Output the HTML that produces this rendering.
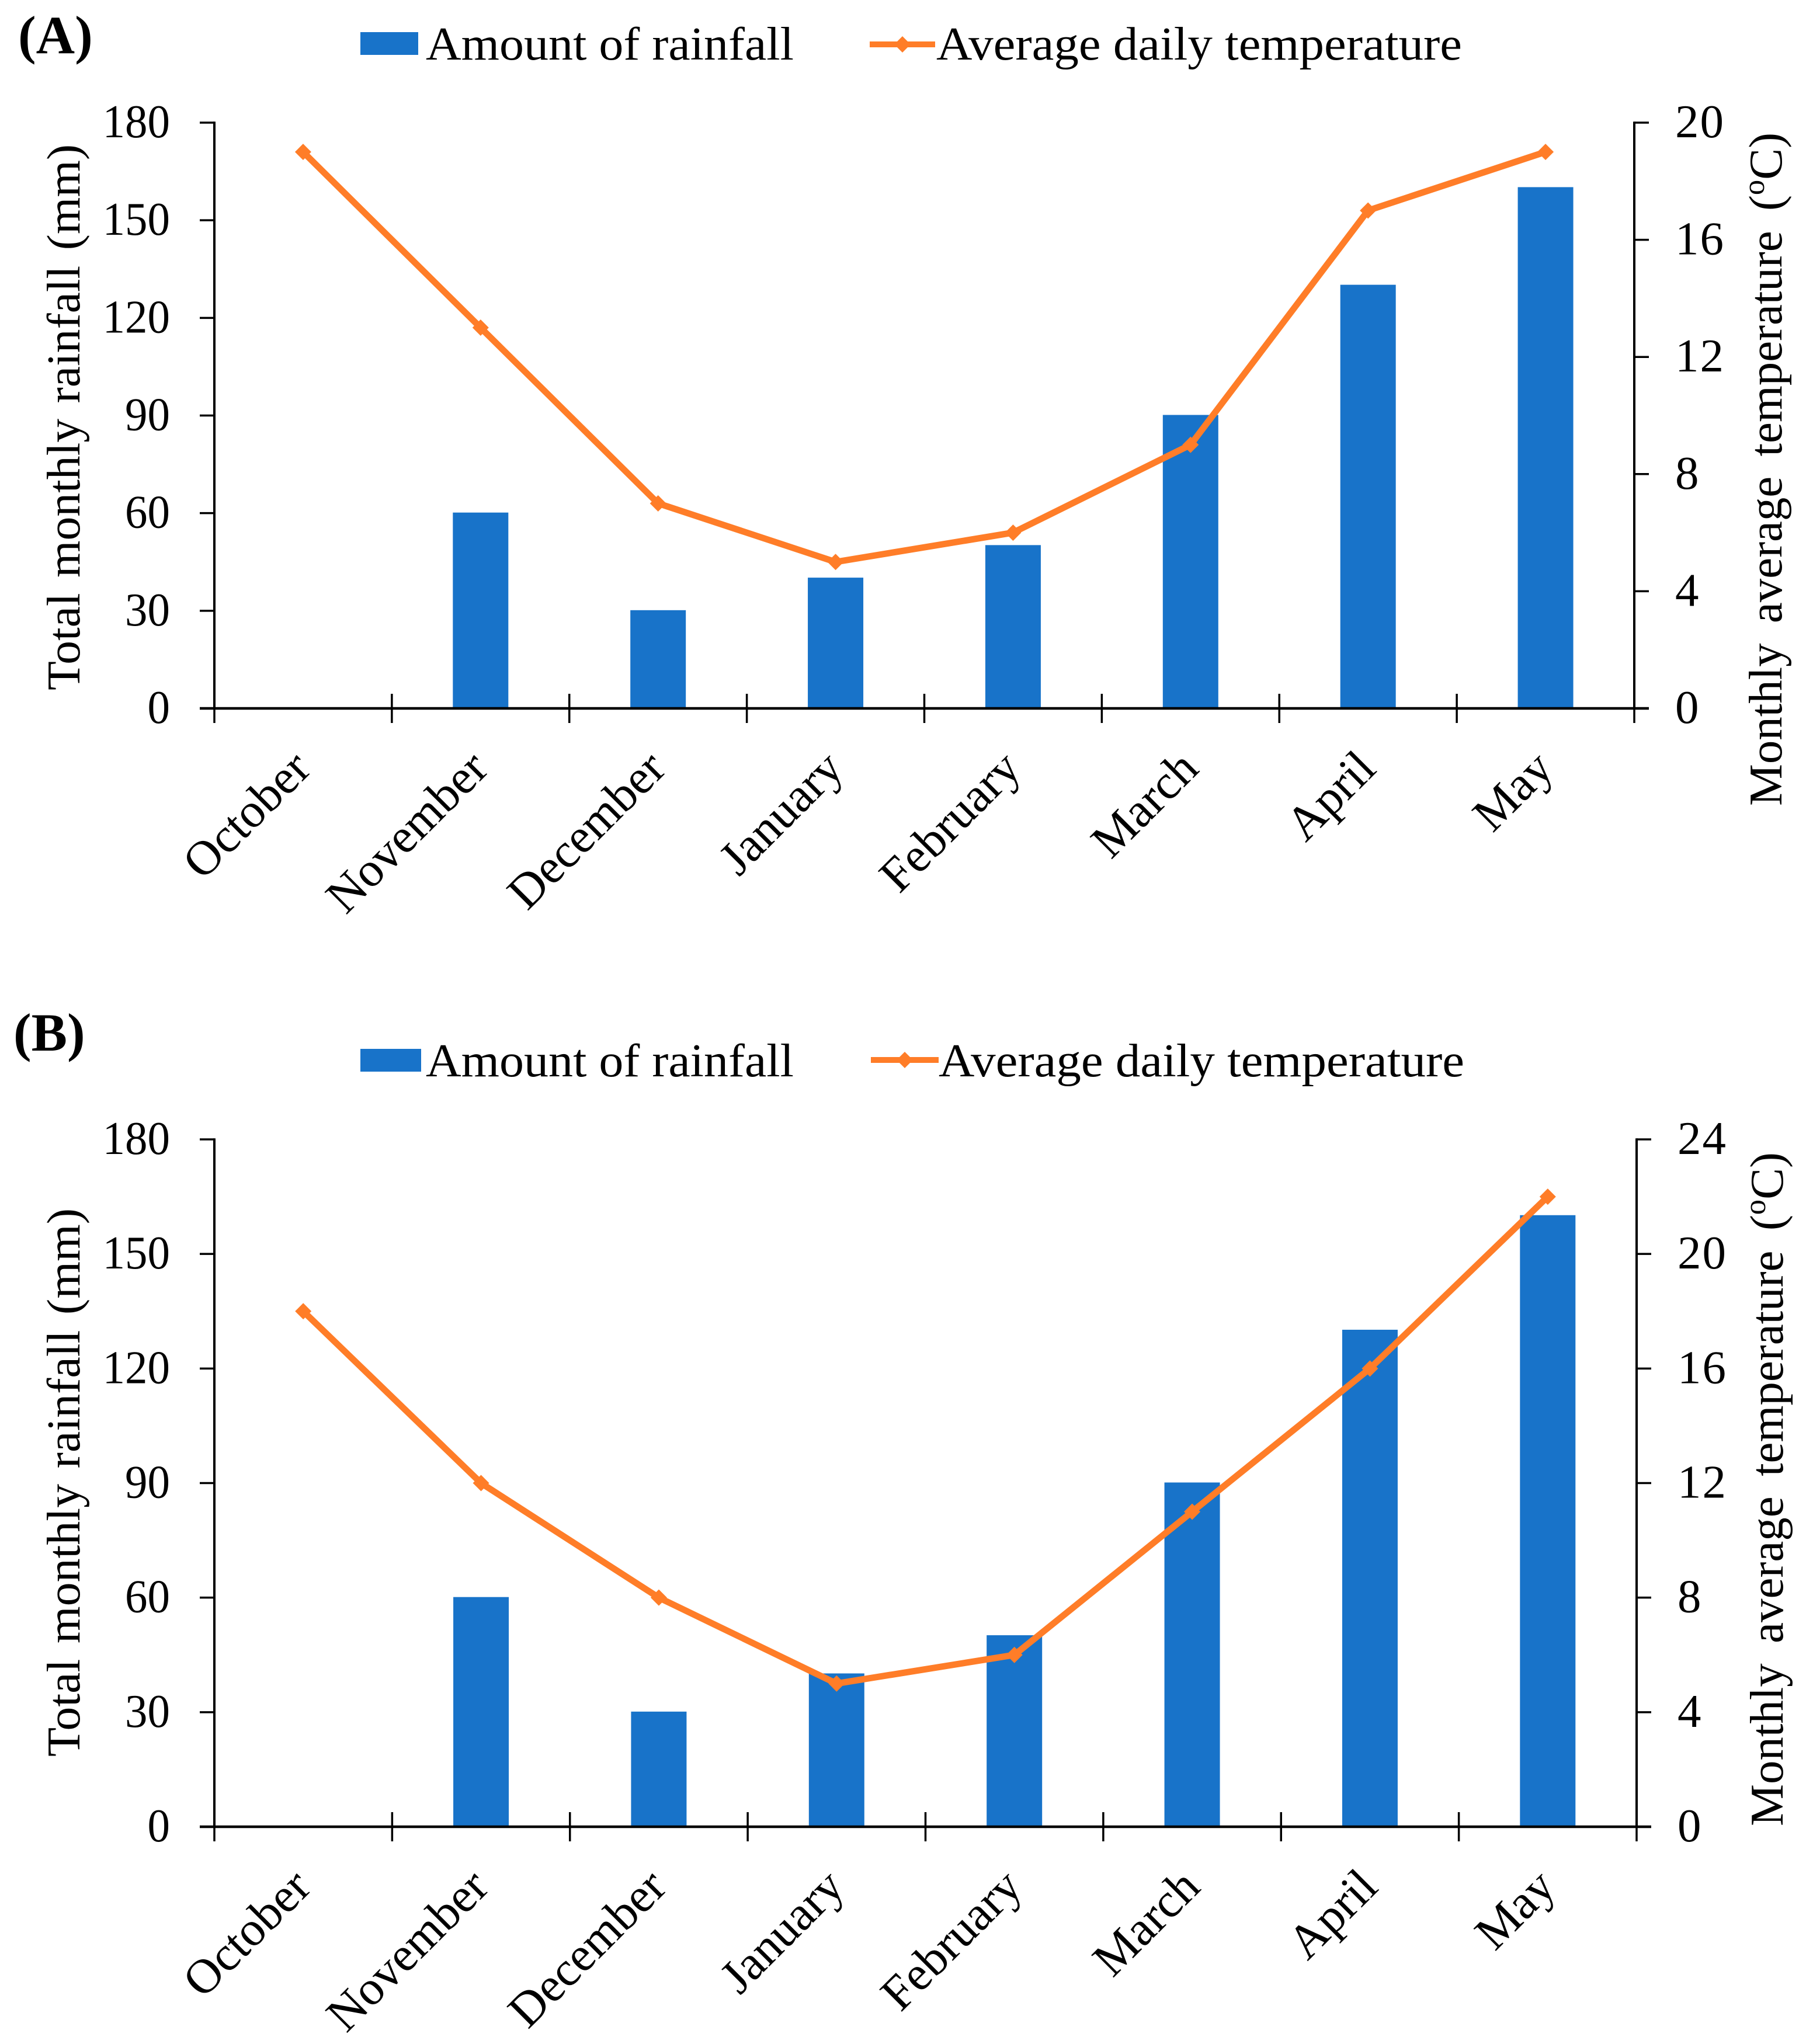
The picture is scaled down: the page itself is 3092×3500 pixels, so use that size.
<!DOCTYPE html>
<html lang="en">
<head>
<meta charset="utf-8">
<title>Monthly rainfall and temperature</title>
<style>
html,body{margin:0;padding:0;background:#fff}
svg{display:block}
text{font-family:"Liberation Serif","Times New Roman",serif;fill:#000}
</style>
</head>
<body>
<svg id="figure" xmlns="http://www.w3.org/2000/svg" width="3092" height="3500" viewBox="0 0 3092 3500">
  <rect x="0" y="0" width="3092" height="3500" fill="#fff"/>

  <text x="31" y="91" font-size="92" font-weight="bold">(A)</text>
  <rect x="617" y="55" width="99" height="39" fill="#1873c9"/>
  <text x="729" y="102" font-size="81" textLength="630" lengthAdjust="spacingAndGlyphs">Amount of rainfall</text>
  <line x1="1489" y1="76" x2="1601" y2="76" stroke="#ff7d28" stroke-width="10"/>
  <polygon points="1545,62 1559,76 1545,90 1531,76" fill="#ff7d28"/>
  <text x="1603" y="102" font-size="81" textLength="900" lengthAdjust="spacingAndGlyphs">Average daily temperature</text>
  <text transform="translate(136,1182) rotate(-90)" font-size="80" word-spacing="6" textLength="935" lengthAdjust="spacingAndGlyphs">Total monthly rainfall (mm)</text>
  <text transform="translate(3050,1380) rotate(-90)" font-size="80" word-spacing="14" textLength="1153" lengthAdjust="spacingAndGlyphs">Monthly average temperature (<tspan dy="-30" font-size="52">o</tspan><tspan dy="30">C)</tspan></text>

  <text x="23" y="1799" font-size="92" font-weight="bold">(B)</text>
  <rect x="617" y="1796" width="104" height="39" fill="#1873c9"/>
  <text x="729" y="1843" font-size="81" textLength="630" lengthAdjust="spacingAndGlyphs">Amount of rainfall</text>
  <line x1="1491" y1="1815" x2="1607" y2="1815" stroke="#ff7d28" stroke-width="10"/>
  <polygon points="1549,1801 1563,1815 1549,1829 1535,1815" fill="#ff7d28"/>
  <text x="1607" y="1843" font-size="81" textLength="900" lengthAdjust="spacingAndGlyphs">Average daily temperature</text>
  <text transform="translate(136,3008) rotate(-90)" font-size="80" word-spacing="6" textLength="939" lengthAdjust="spacingAndGlyphs">Total monthly rainfall (mm)</text>
  <text transform="translate(3052,3127) rotate(-90)" font-size="80" word-spacing="14" textLength="1154" lengthAdjust="spacingAndGlyphs">Monthly average temperature (<tspan dy="-30" font-size="52">o</tspan><tspan dy="30">C)</tspan></text>
</svg>

<script>
const categories = ["October","November","December","January","February","March","April","May"];
const rainfallTicks = [0,30,60,90,120,150,180];
const rainfallA = [0,60,30,40,50,90,130,160];
const temperatureA = [19,13,7,5,6,9,17,19];
const temperatureTicksA = [0,4,8,12,16,20];
const rainfallB = [0,60,30,40,50,90,130,160];
const temperatureB = [18,12,8,5,6,11,16,22];
const temperatureTicksB = [0,4,8,12,16,20,24];

const NS = "http://www.w3.org/2000/svg";
const figure = document.getElementById("figure");
const BLUE = "#1873c9";
const ORANGE = "#ff7d28";

function make(tag, parent, props) {
  const node = document.createElementNS(NS, tag);
  for (const key in props) node.setAttribute(key, props[key]);
  parent.appendChild(node);
  return node;
}

function drawPanel(id, frame, rainfall, temperature, rightTicks) {
  const group = make("g", figure, {});
  
  

  const slot = (frame.right - frame.left) / categories.length;
  const xCenter = function (i) { return frame.left + slot * (i + 0.5); };
  const leftMax = rainfallTicks[rainfallTicks.length - 1];
  const rightMax = rightTicks[rightTicks.length - 1];
  const yLeft = function (v) { return frame.bottom - (v / leftMax) * (frame.bottom - frame.top); };
  const yRight = function (v) { return frame.bottom - (v / rightMax) * (frame.bottom - frame.top); };

  rainfall.forEach(function (value, i) {
    if (value <= 0) return;
    const bar = make("rect", group, {
      x: xCenter(i) - 47.5,
      y: yLeft(value) - 1,
      width: 95,
      height: frame.bottom - yLeft(value) + 1,
      fill: BLUE
    });
    
    
  });

  const leftAxis = make("line", group, { x1: frame.left, x2: frame.left, y1: frame.top - 1.75, y2: frame.bottom, stroke: "#000", "stroke-width": 4 });
  
  

  const rightAxis = make("line", group, { x1: frame.right, x2: frame.right, y1: frame.top - 1.75, y2: frame.bottom, stroke: "#000", "stroke-width": 4 });
  
  

  const xAxis = make("line", group, { x1: frame.left - 25, x2: frame.right + 25, y1: frame.bottom, y2: frame.bottom, stroke: "#000", "stroke-width": 4.5 });
  
  

  for (let i = 0; i <= categories.length; i++) {
    const tx = frame.left + slot * i;
    const tick = make("line", group, { x1: tx, x2: tx, y1: frame.bottom - 25, y2: frame.bottom + 25, stroke: "#000", "stroke-width": 3.5 });
    
    
  }

  rainfallTicks.forEach(function (value) {
    const ty = yLeft(value);
    const tick = make("line", group, { x1: frame.left - 25, x2: frame.left, y1: ty, y2: ty, stroke: "#000", "stroke-width": 3.5 });
    
    
    const label = make("text", group, { transform: "translate(291," + (ty + 25) + ") scale(0.95,1)", "font-size": 81, "text-anchor": "end" });
    label.textContent = String(value);
    
    
  });

  rightTicks.forEach(function (value) {
    const ty = yRight(value);
    const tick = make("line", group, { x1: frame.right, x2: frame.right + 25, y1: ty, y2: ty, stroke: "#000", "stroke-width": 3.5 });
    
    
    const label = make("text", group, { x: frame.right + 70, y: ty + 25, "font-size": 81, "letter-spacing": 2 });
    label.textContent = String(value);
    
    
  });

  categories.forEach(function (name, i) {
    const ax = xCenter(i) + 17;
    const ay = frame.bottom + 107;
    const label = make("text", group, { transform: "translate(" + ax + "," + ay + ") rotate(-45)", "font-size": 83, "text-anchor": "end" });
    label.textContent = name;
    
    
  });

  const points = temperature.map(function (value, i) { return xCenter(i) + "," + yRight(value); }).join(" ");
  const line = make("polyline", group, { points: points, fill: "none", stroke: ORANGE, "stroke-width": 11, "stroke-linejoin": "round" });
  
  

  temperature.forEach(function (value, i) {
    const cx = xCenter(i);
    const cy = yRight(value);
    const marker = make("polygon", group, {
      points: cx + "," + (cy - 14) + " " + (cx + 14) + "," + cy + " " + cx + "," + (cy + 14) + " " + (cx - 14) + "," + cy,
      fill: ORANGE
    });
    
    
  });
}

drawPanel("a", { left: 367, right: 2798, top: 210, bottom: 1213 }, rainfallA, temperatureA, temperatureTicksA);
drawPanel("b", { left: 367, right: 2802, top: 1951, bottom: 3128 }, rainfallB, temperatureB, temperatureTicksB);
</script>
</body>
</html>
